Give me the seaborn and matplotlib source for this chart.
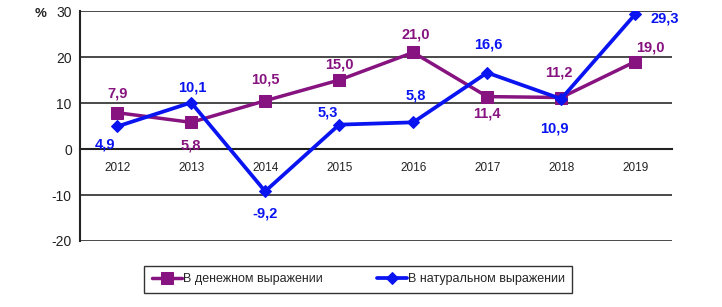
import pandas as pd
import matplotlib.pyplot as plt
import seaborn as sns

years = ['2012', '2013', '2014', '2015', '2016', '2017', '2018', '2019']
money = [7.9, 5.8, 10.5, 15.0, 21.0, 11.4, 11.2, 19.0]
natural = [4.9, 10.1, -9.2, 5.3, 5.8, 16.6, 10.9, 29.3]
money_name = 'В денежном выражении'
natural_name = 'В натуральном выражении'

# label offsets in points (dx, dy) for each data label
money_off = [(0, 14), (0, -17), (0, 15), (0, 11), (2, 13), (0, -12), (-2, 18), (11, 10)]
natural_off = [(-9, -13), (1, 11), (0, -16), (-8, 9), (2, 19), (1, 20), (-5, -21), (21, -3)]

df = pd.DataFrame({
    'Год': years * 2,
    'Значение': money + natural,
    'Ряд': [money_name] * len(years) + [natural_name] * len(years),
})

sns.set_style('white')
plt.rcParams['font.family'] = ['Liberation Sans', 'DejaVu Sans']

purple = '#86137F'
blue = '#0A14F0'

fig = plt.figure(figsize=(7.22, 3.07), dpi=100)
ax = fig.add_axes([0.111, 0.215, 0.82, 0.749])

ax.set_axisbelow(True)
for yv in [-20, -10, 10, 20, 30]:
    ax.axhline(yv, color='#3a3a3a', linewidth=1.3, zorder=0)

sns.lineplot(data=df[df['Ряд'] == money_name], x='Год', y='Значение', color=purple,
             marker='s', markersize=8, markeredgecolor=purple, linewidth=2.5,
             label=money_name, ax=ax, zorder=3)
sns.lineplot(data=df[df['Ряд'] == natural_name], x='Год', y='Значение', color=blue,
             marker='D', markersize=6, markeredgecolor=blue, linewidth=2.7,
             label=natural_name, ax=ax, zorder=4)

for i, v in enumerate(money):
    ax.annotate(f'{v:.1f}'.replace('.', ','), (i, v), xytext=money_off[i], textcoords='offset points',
                ha='center', va='center', color=purple, fontsize=10.5, fontweight='bold')
for i, v in enumerate(natural):
    ax.annotate(f'{v:.1f}'.replace('.', ','), (i, v), xytext=natural_off[i], textcoords='offset points',
                ha='center', va='center', color=blue, fontsize=10.5, fontweight='bold')

ax.set_xlim(-0.5, 7.5)
ax.set_ylim(-20, 30)
ax.set_yticks([-20, -10, 0, 10, 20, 30])
ax.set_yticklabels(['-20', '-10', '0', '10', '20', '30'])
ax.set_xticks(range(len(years)))
ax.set_xticklabels(years)
ax.set_xticks([i - 0.5 for i in range(len(years) + 1)], minor=True)
ax.tick_params(axis='x', which='major', length=0, labelsize=8.5, labelcolor='#222222', pad=9)
ax.tick_params(axis='x', which='minor', length=4, width=1.2, color='black', direction='out')
ax.tick_params(axis='y', length=4, width=1.2, color='black', direction='out', labelsize=10,
               labelcolor='#222222', pad=2)
ax.set_xlabel('')
ax.set_ylabel('')

ax.spines['bottom'].set_position(('data', 0))
ax.spines['bottom'].set_linewidth(1.5)
ax.spines['bottom'].set_color('#222222')
ax.spines['left'].set_linewidth(1.5)
ax.spines['left'].set_color('#222222')
ax.spines['top'].set_visible(False)
ax.spines['right'].set_visible(False)

fig.text(0.056, 0.955, '%', fontsize=9.5, fontweight='bold', ha='center', va='center', color='#222222')

leg = ax.legend(loc='upper center', bbox_to_anchor=(0.47, -0.08), ncol=2, frameon=True,
                fancybox=False, edgecolor='black', fontsize=9, handlelength=2.4,
                handletextpad=0.1, columnspacing=4.3, borderpad=0.6)
leg.get_frame().set_linewidth(1.0)

plt.savefig('out.png', dpi=100)
